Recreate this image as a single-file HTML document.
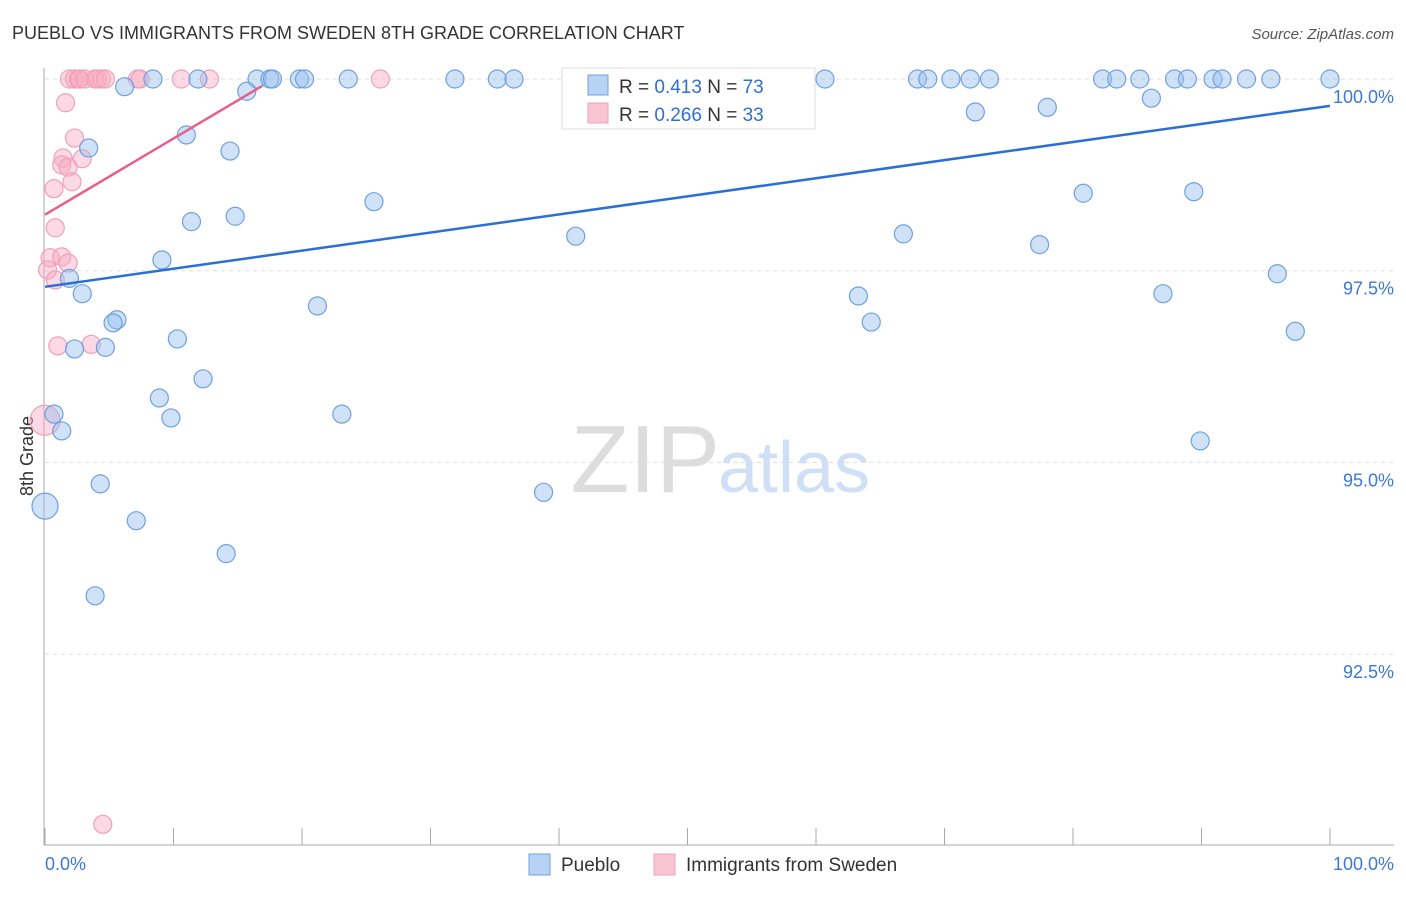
<!DOCTYPE html>
<html><head><meta charset="utf-8"><style>
body{margin:0;background:#fff;font-family:"Liberation Sans",sans-serif}
svg text{font-family:"Liberation Sans",sans-serif}
</style></head><body>
<svg id="c" width="1406" height="892">
<text x="12" y="39" font-size="18" fill="#333">PUEBLO VS IMMIGRANTS FROM SWEDEN 8TH GRADE CORRELATION CHART</text>
<text x="1394" y="39" font-size="15" fill="#555" text-anchor="end" font-style="italic">Source: ZipAtlas.com</text>
<text x="33" y="456" font-size="18" fill="#333" text-anchor="middle" transform="rotate(-90 33 456)">8th Grade</text>
<text x="720" y="492" font-size="96" fill="#ddd" text-anchor="end" font-family="Liberation Serif">ZIP</text>
<text x="718" y="492" font-size="72" fill="#cfdff5">atlas</text>
<g id="grid"></g><g id="axes"></g><g id="pts"></g><g id="lines"></g>
<rect x="562" y="68" width="253" height="61" fill="#fff" stroke="#ddd"/>
<rect x="588" y="75" width="20" height="20" fill="#b8d2f4" stroke="#6fa0e0"/>
<rect x="588" y="103" width="20" height="20" fill="#f9c4d4" stroke="#f0a0b8"/>
<text x="619" y="93" font-size="19" fill="#333">R = <tspan fill="#2f6fd0">0.413</tspan>    N = <tspan fill="#2f6fd0">73</tspan></text>
<text x="619" y="121" font-size="19" fill="#333">R = <tspan fill="#2f6fd0">0.266</tspan>    N = <tspan fill="#2f6fd0">33</tspan></text>
<text x="45" y="870" font-size="18" fill="#3b78d8">0.0%</text>
<text x="1394" y="870" font-size="18" fill="#3b78d8" text-anchor="end">100.0%</text>
<rect x="529" y="854" width="21" height="21" fill="#b8d2f4" stroke="#6fa0e0"/>
<text x="561" y="871" font-size="19" fill="#333">Pueblo</text>
<rect x="654" y="854" width="21" height="21" fill="#f9c4d4" stroke="#f0a0b8"/>
<text x="686" y="871" font-size="19" fill="#333">Immigrants from Sweden</text>
</svg>
<script>
const yTicks=[100,97.5,95,92.5];
const yTickLabels=["100.0%","97.5%","95.0%","92.5%"];
const blueX=[6.2,8.4,11.9,16.5,17.5,17.7,19.8,20.2,23.6,31.9,35.2,36.5,42.3,45.8,46.9,60.7,67.9,68.7,70.5,72.0,73.5,82.3,83.4,85.2,87.9,88.9,90.9,91.6,93.5,95.4,100,
15.7,11.0,3.4,14.4,11.4,14.8,25.6,41.3,66.8,80.8,89.4,77.4,72.4,78.0,86.1,9.1,1.9,2.9,21.2,63.3,87.0,95.9,64.3,97.3,5.6,5.3,10.3,2.3,4.7,12.3,8.9,9.8,23.1,0.7,1.3,89.9,38.8,4.3,7.1,14.1,3.9,0];
const blueY=[99.9,100,100,100,100,100,100,100,100,100,100,100,100,100,100,100,100,100,100,100,100,100,100,100,100,100,100,100,100,100,100,
99.84,99.27,99.10,99.06,98.14,98.21,98.40,97.95,97.98,98.51,98.53,97.84,99.57,99.63,99.75,97.64,97.40,97.20,97.04,97.17,97.20,97.46,96.83,96.71,96.86,96.82,96.61,96.48,96.50,96.09,95.84,95.58,95.63,95.63,95.41,95.28,94.61,94.72,94.24,93.81,93.26,94.43];
const pinkX=[1.9,2.3,2.6,2.7,3.1,3.9,4.1,4.4,4.7,7.2,7.4,10.6,12.8,26.1,1.6,2.3,1.4,1.3,1.8,2.9,2.1,0.7,0.8,0.4,1.3,1.8,0.2,0.8,1.0,3.6,0,4.5];
const pinkY=[100,100,100,100,100,100,100,100,100,100,100,100,100,100,99.69,99.23,98.97,98.88,98.85,98.96,98.66,98.57,98.06,97.67,97.68,97.60,97.51,97.38,96.52,96.54,95.55,90.28];
const blueTrend=[[0,97.29],[100,99.65]];
const pinkTrend=[[0,98.23],[16.9,99.91]];
const NS="http://www.w3.org/2000/svg";
const sx=v=>45+v*12.85, sy=v=>79+(100-v)*76.68;
function mk(p,t,a){const e=document.createElementNS(NS,t);for(const k in a)e.setAttribute(k,a[k]);p.appendChild(e);return e;}
const grid=document.getElementById('grid'),axes=document.getElementById('axes'),pts=document.getElementById('pts'),lines=document.getElementById('lines');
yTicks.forEach((t,i)=>{
 const l=mk(grid,'line',{x1:45,x2:1394,y1:sy(t),y2:sy(t),stroke:'#ddd','stroke-dasharray':'4 4'});
 
 
 const tx=mk(grid,'text',{x:1394,y:sy(t)+24,'font-size':18,fill:'#3b78d8','text-anchor':'end'});
 tx.textContent=yTickLabels[i];
 
 
});
const ax=mk(axes,'line',{x1:44,x2:44,y1:68,y2:845,stroke:'#aaa'});


const bx=mk(axes,'line',{x1:44,x2:1394,y1:845,y2:845,stroke:'#aaa'});


for(let i=0;i<=10;i++){
 const tk=mk(axes,'line',{x1:sx(i*10),x2:sx(i*10),y1:828,y2:845,stroke:'#aaa'});
 
 
}
function dot(x,y,r,fill,stroke,name){
 const c=mk(pts,'circle',{cx:sx(x),cy:sy(y),r:r,fill:fill,stroke:stroke,'stroke-width':1.2});
 
 
}
pinkX.forEach((x,i)=>dot(x,pinkY[i],(x===0?15:9),'rgba(248,170,195,0.45)','#f0a0b8','sweden-point'));
blueX.forEach((x,i)=>dot(x,blueY[i],(x===0?13:9),'rgba(150,190,240,0.45)','#6fa0e0','pueblo-point'));
const bl=mk(lines,'line',{x1:sx(blueTrend[0][0]),y1:sy(blueTrend[0][1]),x2:sx(blueTrend[1][0]),y2:sy(blueTrend[1][1]),stroke:'#2a6fd6','stroke-width':2.5});


const pl=mk(lines,'line',{x1:sx(pinkTrend[0][0]),y1:sy(pinkTrend[0][1]),x2:sx(pinkTrend[1][0]),y2:sy(pinkTrend[1][1]),stroke:'#e8608a','stroke-width':2.5});


</script>
</body></html>
